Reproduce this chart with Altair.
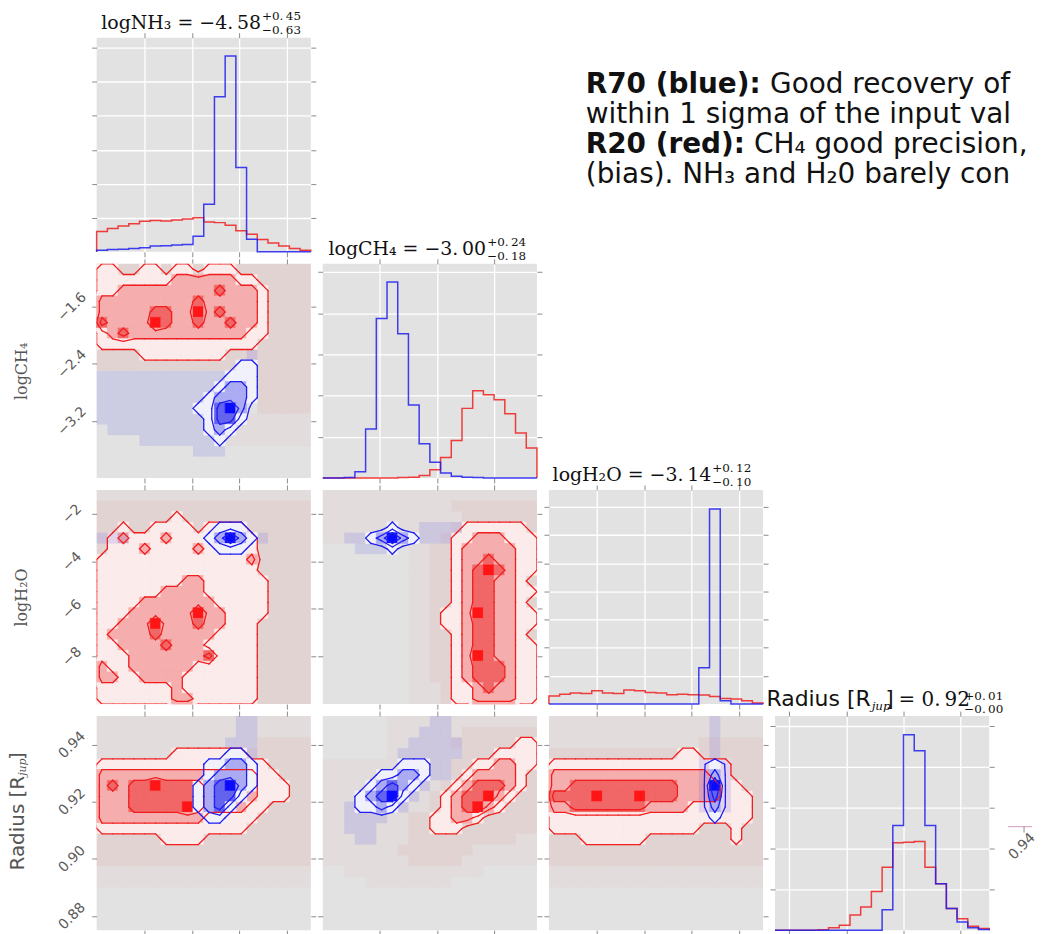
import altair as alt
import pandas as pd

# ---------------- values ----------------
NBIN = 20
NH3_RANGE = [-10.0, -1.0]
CH4_RANGE = [-4.0, -1.0]
H2O_RANGE = [-10.0, -1.0]
RAD_RANGE = [0.875, 0.95]
NH3_TICKS = [-8, -6, -4, -2]
CH4_TICKS = [-3.2, -2.4, -1.6]
H2O_TICKS = [-8, -6, -4, -2]
RAD_TICKS = [0.88, 0.90, 0.92, 0.94]

# 1-D histograms (20 bins each, arbitrary count units = grid steps)
NH3_HIST_RED = [0.60, 0.69, 0.76, 0.83, 0.90, 0.92, 0.91, 0.94, 0.97, 1.00,
                0.88, 0.86, 0.78, 0.62, 0.52, 0.36, 0.26, 0.17, 0.10, 0.05]
NH3_HIST_BLUE = [0.05, 0.07, 0.08, 0.10, 0.12, 0.17, 0.18, 0.20, 0.22, 0.46,
                 1.40, 4.56, 5.76, 2.48, 0.37, 0, 0, 0, 0, 0]
CH4_HIST_RED = [0, 0, 0, 0, 0, 0, 0, 0.01, 0.02, 0.06,
                0.20, 0.50, 0.91, 1.69, 2.12, 2.02, 1.90, 1.56, 1.09, 0.73]
CH4_HIST_BLUE = [0, 0, 0.01, 0.15, 1.19, 3.87, 4.76, 3.50, 1.77, 0.83,
                 0.38, 0.12, 0.04, 0.02, 0.01, 0, 0, 0, 0, 0]
H2O_HIST_RED = [0.29, 0.35, 0.39, 0.38, 0.47, 0.39, 0.38, 0.50, 0.47, 0.41,
                0.39, 0.33, 0.35, 0.33, 0.32, 0.27, 0.20, 0.18, 0.12, 0.04]
H2O_HIST_BLUE = [0, 0, 0, 0, 0, 0, 0, 0, 0, 0,
                 0, 0, 0, 0, 1.29, 6.92, 0.12, 0, 0, 0]
RAD_HIST_RED = [0, 0, 0, 0, 0.01, 0.06, 0.12, 0.37, 0.57, 0.95,
                1.54, 2.14, 2.15, 2.17, 1.54, 1.14, 0.53, 0.28, 0.10, 0.04]
RAD_HIST_BLUE = [0, 0, 0, 0, 0, 0, 0, 0, 0, 0,
                 0.50, 2.56, 4.78, 4.39, 2.56, 1.14, 0.53, 0.20, 0.06, 0.02]
HIST_YMAX = [6.3, 5.2, 7.6, 5.24]
HIST_GRID = [6, 5, 7, 5]

# 2-D histograms: 20x20 cells, row 0 = top. 1-4 density level,
# '.' / ',' / 'h' = scattered samples only
A_RED = [  # logCH4 vs logNH3
    "11..11.11.111.......", "111111122222211.....", "1122222222232221....",
    "2222222223222221....", "2222233224232221....", "3222243223223221....",
    "1232222222222211....", "111111111111111.....", "....11111111........",
    "....................", "              ......", "              ......",
    "              ......", "               .....", "          ,,,,,,,,,,",
    "          ,,,,,,,,,,", "            ,,,,,,,,", "", "", ""]
A_BLUE = [
    "", "", "", "", "", "", "", "",
    "              .     ", "             11     ", "............111     ",
    "...........1221     ", "..........12221     ", ".........11342      ",
    "..........1331      ", " .........121       ", "    .......1        ",
    "         ...        ", "", ""]
B_RED = [  # logH2O vs logNH3
    ",,,,,,,,,,,,,,,,,,,,", "....................", ".......1............",
    "..1..1111.1111......", ".12111211111111.....", ".11121111211111.....",
    "111111111111112.....", "111111111111111.....", "1111111122111111....",
    "1111112222111111....", "1111222222211111....", "1112222224221111....",
    "112224222322111.....", "122223222221111.....", "112222322211111.....",
    "111222222231111.....", "211222222111111.....", "221122221111111.....",
    "111111121111111.....", "111111122111111....."]
B_BLUE = [
    "", "", "", "           111      ", "...       12421.    ",
    "           111      "]
C_RED = [  # logH2O vs logCH4
    ",,,,,,,,,,,,,,,,,,,,", ",,,,,,,,,,,,........", ",,,,,,,,,,,,,.......",
    ",,,,,,,,,,,,.111111.", ",,,,,,,,,,,.11222111", "        ,,..12222211",
    "        ,,..12232211", "        ,,..12343211", "        ,,..1233221.",
    "        ,,..12332211", "        ,,..1233221.", "        ,,.112432211",
    "        ,,.112332211", "        ,,..1233221.", "        ,,..12332211",
    "        ,,..12432211", "        ,,..12333211", "        ,,..12333211",
    "        ,,,.11232211", "        ,,,.11222211"]
C_BLUE = [
    "", "", "", "      1  ....       ", "  ..12421...        ",
    "   ...1             "]
D_RED = [  # Radius vs logNH3
    ",,,,,,,,,,,,,,,,,,,,", ",,,,,,,,,,,,,,,,,,,,", ",,,,,,,,,,,,,,,.....",
    ",,,,,,,1111111......", "1111111111111111....", "22222222222222211...",
    "232334333322222111..", "222333333322222111..", "2223333343222211....",
    "222222222211111.....", "11111111111111......", "......1111..........",
    "....................", "....................", ",,,,,,,,,,,,,,,,,,,,",
    ",,,,,,,,,,,,,,,,,,,,", "", "", "", ""]
D_BLUE = [
    "             ..     ", "             ..     ", "            ...     ",
    "            11.     ", "          11221     ", "          12221     ",
    "         123421     ", "         12331      ", "         1231       ",
    "          11        "]
E_RED = [  # Radius vs logCH4
    "      ,,,,,,,,,,,,,,", "      ,,,,,,,.......", "      ,,,,,,......11",
    "      ,,,,,,,...1111", ",,,,,,,,,,,,..112211", ",,,,,,,,,,,,.122221.",
    ",,,,,,,,,,,.1233321.", ",,,,,,,,,,.1233421..", ",,,,,,,,,,.123421...",
    ",,,,,,,,..11221.....", ",,,,,,,,..111.......", ",,,,,,,,..........,,",
    ",,,,,,,.......,,,,,,", ",,,,,,,,.....,,,,,,,", "  ,,,,,,,,,,,,,     ",
    "    ,,,,,,,,        "]
E_BLUE = [
    "          ..        ", "         ...        ", "        .....       ",
    "       ......       ", "       111..        ", "     11221..        ",
    "    12321.          ", "   12341.           ", "  .1121.            ",
    "  ....              ", "  ...               ", "   ..               "]
F_RED = [  # Radius vs logH2O
    ",,,,,,,,,,,,,,,,,,,,", ",,,,,,,,,,,,,,,,,,,,", ",,,,,,,,,,,,,,......",
    "............11......", "11111111111111111...", "22222222222222211...",
    "223333333333222211..", "3333433343332222111.", "2233333332222111111.",
    "1111111111111111111.", "11111111111111...1..", "...111111........1..",
    "....................", "....................", ",,,,,,,,,,,,,,,,,,,,",
    ",,,,,,,,,,,,,,,,,,,,"]
F_BLUE = [
    "               .    ", "               .    ", "               .    ",
    "               .    ", "              h1h   ", "              h2h   ",
    "              h4h   ", "              h3h   ", "              h2h   ",
    "               1    "]

# texts
DIAG_TITLES = [
    ("logNH\u2083 = \u22124.\u200958", "+0.\u200945", "\u22120.\u200963"),
    ("logCH\u2084 = \u22123.\u200900", "+0.\u200924", "\u22120.\u200918"),
    ("logH\u2082O = \u22123.\u200914", "+0.\u200912", "\u22120.\u200910"),
]
RAD_TITLE = ("Radius [R", "jup", "]", "= 0.\u200992", "+0.\u200901", "\u22120.\u200900")
Y_TITLES = ["logCH\u2084", "logH\u2082O"]
RAD_YTITLE = ("Radius [R", "jup", "]")
BOX_BOLD = ["R70 (blue):", "", "R20 (red):", ""]
BOX_REST = ["Good recovery of N", "within 1 sigma of the input val",
            "CH\u2084 good precision,", "(bias). NH\u2083 and H\u20820 barely con"]
EDGE_LABEL = "0.94"   # fragment of the neighbouring figure at the right edge

# ---------------- styling ----------------
W = 215
H = 215
GAP = 12
RIGHT_LIMIT = 941     # right edge of the picture, relative to the first panel
BG = "#e2e2e2"
TICK_COLOR = "#8c8c8c"
SERIF = "DejaVu Serif"
SANS = "DejaVu Sans"
BOXFONT = "DejaVu Sans"
BOXSIZE = 28
RED_LINE = "#f01e1e"
BLUE_LINE = "#1e1ef0"
LEVEL_COLORS = {
    "R1": "#fcebeb", "R2": "#f6adad", "R3": "#f16666", "R4": "#ff1515",
    "R.": "rgba(235,70,70,0.09)", "R,": "rgba(235,70,70,0.035)", "Rh": "rgba(235,70,70,0.09)",
    "B1": "#f1f1fc", "B2": "#ababf4", "B3": "#6363ef", "B4": "#0a0aff",
    "B.": "rgba(70,70,235,0.14)", "B,": "rgba(70,70,235,0.05)", "Bh": "rgba(70,70,235,0.14)",
}
CSCALE = alt.Scale(domain=list(LEVEL_COLORS.keys()), range=list(LEVEL_COLORS.values()))
LEVEL_VALUE = {"1": 1.0, "2": 2.0, "3": 3.0, "4": 4.0, "h": 0.45}
CONTOUR_LEVELS = (0.5, 1.5, 2.5)
SEG_TABLE = {1: [("L", "B")], 2: [("B", "R")], 3: [("L", "R")], 4: [("T", "R")],
             5: [("T", "R"), ("L", "B")], 6: [("T", "B")], 7: [("T", "L")],
             8: [("T", "L")], 9: [("T", "B")], 10: [("T", "L"), ("B", "R")],
             11: [("T", "R")], 12: [("L", "R")], 13: [("R", "B")], 14: [("L", "B")]}
ONE = alt.Data(values=[{"a": 0}])


def row_str(rows, r):
    return (rows[r] if r < len(rows) else "").ljust(NBIN)[:NBIN]


def cells(rows, xr, yr, tag):
    dx = (xr[1] - xr[0]) / NBIN
    dy = (yr[1] - yr[0]) / NBIN
    out = []
    for r in range(NBIN):
        for c, ch in enumerate(row_str(rows, r)):
            if ch == " ":
                continue
            out.append({"x": xr[0] + c * dx, "x2": xr[0] + (c + 1) * dx,
                        "y": yr[1] - (r + 1) * dy, "y2": yr[1] - r * dy,
                        "k": tag + ch, "solid": ch in "1234"})
    return pd.DataFrame(out, columns=["x", "x2", "y", "y2", "k", "solid"])


def contour_segments(rows, xr, yr):
    n = NBIN
    g = [[LEVEL_VALUE.get(ch, 0.0) for ch in row_str(rows, r)] for r in range(n)]
    P = [[0.0] * (n + 2)] + [[0.0] + row + [0.0] for row in g] + [[0.0] * (n + 2)]
    dx = (xr[1] - xr[0]) / n
    dy = (yr[1] - yr[0]) / n
    out = []
    for t in CONTOUR_LEVELS:
        for i in range(n + 1):
            for j in range(n + 1):
                a, b = P[i][j], P[i][j + 1]
                d, c = P[i + 1][j], P[i + 1][j + 1]
                idx = (a > t) * 8 + (b > t) * 4 + (c > t) * 2 + (d > t) * 1
                if idx in (0, 15):
                    continue
                def edge(e):
                    if e == "T":
                        return (j + (t - a) / (b - a), i)
                    if e == "R":
                        return (j + 1, i + (t - b) / (c - b))
                    if e == "B":
                        return (j + (t - d) / (c - d), i + 1)
                    return (j, i + (t - a) / (d - a))
                for e1, e2 in SEG_TABLE[idx]:
                    p1, p2 = edge(e1), edge(e2)
                    out.append({"x": xr[0] + (p1[0] - 0.5) * dx, "y": yr[1] - (p1[1] - 0.5) * dy,
                                "x2": xr[0] + (p2[0] - 0.5) * dx, "y2": yr[1] - (p2[1] - 0.5) * dy})
    return pd.DataFrame(out, columns=["x", "y", "x2", "y2"])


def steps(vals, xr):
    dx = (xr[1] - xr[0]) / NBIN
    pts = [(xr[0], 0.0)] + [(xr[0] + k * dx, v) for k, v in enumerate(vals)] + \
          [(xr[1], vals[-1]), (xr[1], 0.0)]
    return pd.DataFrame({"i": list(range(len(pts))), "x": [p[0] for p in pts],
                         "y": [p[1] for p in pts]})


def tick_axis(orient, values, **kw):
    a = dict(orient=orient, values=values, labels=False, ticks=True, tickSize=5,
             tickColor=TICK_COLOR, tickWidth=1, domain=False, grid=False, title=None)
    a.update(kw)
    return alt.Axis(**a)


YLAB = dict(labels=True, labelAngle=-45, labelAlign="center", labelBaseline="middle",
            labelPadding=20, labelFont=SANS, labelFontSize=14, labelColor="#5a5a5a")
GRID = dict(grid=True, gridColor="white", gridWidth=1.3, gridOpacity=1)


def label(text, x, y, size, font, color="#111", weight="normal", style="normal",
          angle=0, align="left", baseline="alphabetic", limit=0):
    kw = dict(text=text, font=font, fontSize=size, fontWeight=weight, fontStyle=style,
              color=color, angle=angle, align=align, baseline=baseline)
    if limit:
        kw.update(limit=limit, ellipsis="\u200b")
    return alt.Chart(ONE).mark_text(**kw).encode(x=alt.value(x), y=alt.value(y))


def panel2d(xr, xt, yr, yt, red_rows, blue_rows, yfmt=None, extras=()):
    xs = alt.Scale(domain=xr, nice=False, zero=False)
    ys = alt.Scale(domain=yr, nice=False, zero=False)
    ax_b = tick_axis("bottom", xt)
    ax_l = tick_axis("left", yt, format=yfmt, **YLAB) if yfmt else tick_axis("left", yt)
    ax_t = tick_axis("top", xt)
    ax_r = tick_axis("right", yt)
    r = cells(red_rows, xr, yr, "R")
    b = cells(blue_rows, xr, yr, "B")
    groups = [(r[r.solid == True], True), (r[r.solid == False], False),
              (b[b.solid == False], False), (b[b.solid == True], True)]
    layers = []
    for g, solid in groups:
        if g.empty:
            continue
        first = not layers
        enc = dict(
            x=alt.X("x:Q", scale=xs, axis=ax_b if first else None), x2=alt.X2("x2"),
            y=alt.Y("y:Q", scale=ys, axis=ax_l if first else None), y2=alt.Y2("y2"),
            color=alt.Color("k:N", scale=CSCALE, legend=None))
        if solid:
            enc["stroke"] = alt.Stroke("k:N", scale=CSCALE, legend=None)
            m = alt.Chart(g).mark_rect(strokeWidth=0.7)
        else:
            m = alt.Chart(g).mark_rect(strokeWidth=0)
        layers.append(m.encode(**enc))
    for rows, col, last in ((red_rows, RED_LINE, False), (blue_rows, BLUE_LINE, True)):
        seg = contour_segments(rows, xr, yr)
        layers.append(alt.Chart(seg).mark_rule(color=col, strokeWidth=1.3, clip=True,
                                               strokeCap="round").encode(
            x=alt.X("x:Q", scale=xs, axis=ax_t if last else None), x2=alt.X2("x2"),
            y=alt.Y("y:Q", scale=ys, axis=ax_r if last else None), y2=alt.Y2("y2")))
    layers.extend(extras)
    return alt.layer(*layers).resolve_axis(x="independent", y="independent").properties(
        width=W, height=H, view=alt.ViewBackground(fill=BG, strokeWidth=0))


def histpanel(xr, xt, ymax, ngrid, red, blue, extras=()):
    xs = alt.Scale(domain=xr, nice=False, zero=False)
    ys = alt.Scale(domain=[0, ymax], nice=False, zero=True)
    yt = list(range(1, ngrid + 1))
    red_l = alt.Chart(steps(red, xr)).mark_line(
        interpolate="step-after", color=RED_LINE, strokeWidth=1.5, opacity=0.85).encode(
        x=alt.X("x:Q", scale=xs, axis=tick_axis("bottom", xt, **GRID)),
        y=alt.Y("y:Q", scale=ys, axis=tick_axis("left", yt, **GRID)),
        order="i:Q")
    blue_l = alt.Chart(steps(blue, xr)).mark_line(
        interpolate="step-after", color=BLUE_LINE, strokeWidth=1.5, opacity=0.85).encode(
        x=alt.X("x:Q", scale=xs, axis=tick_axis("top", xt)),
        y=alt.Y("y:Q", scale=ys, axis=tick_axis("right", yt)),
        order="i:Q")
    return alt.layer(red_l, blue_l, *extras).resolve_axis(
        x="independent", y="independent").properties(
        width=W, height=H, view=alt.ViewBackground(fill=BG, strokeWidth=0))


def diag_title(t, supx):
    main, sup, sub = t
    return [label(main, supx - 1, -8.5, 19, SERIF, align="right"),
            label(sup, supx, -18, 12, SERIF),
            label(sub, supx, -3.5, 12, SERIF)]


def ytitle(text):
    return label(text, -75, 108, 16, SERIF, color="#555", angle=270,
                 align="center", baseline="middle")


rad_title = [
    label(RAD_TITLE[0], 96, -10, 22, SANS, align="right"),
    label(RAD_TITLE[1], 97, -6, 12, SERIF, style="italic"),
    label(RAD_TITLE[2], 111, -10, 21, SANS),
    label(RAD_TITLE[3], 124, -10, 20, SERIF),
    label(RAD_TITLE[4], 190, -16, 12, SERIF),
    label(RAD_TITLE[5], 190, -3, 12, SERIF),
    # fragment of the next figure, cut by the picture edge
    label(EDGE_LABEL, 248, 131, 14, SANS, color="#5a5a5a", angle=315,
          align="center", baseline="middle"),
    alt.Chart(ONE).mark_rule(color="#d9a8c8", strokeWidth=1.2).encode(
        x=alt.value(234), x2=alt.value(258), y=alt.value(111)),
    alt.Chart(ONE).mark_rule(color=TICK_COLOR, strokeWidth=1).encode(
        x=alt.value(250), y=alt.value(111), y2=alt.value(117)),
]
rad_ytitle = [
    label(RAD_YTITLE[0], -79, 60, 20, SANS, color="#555", angle=270, align="right", baseline="middle"),
    label(RAD_YTITLE[1], -74, 60, 11, SERIF, color="#555", style="italic", angle=270, baseline="middle"),
    label(RAD_YTITLE[2], -79, 44, 20, SANS, color="#555", angle=270, baseline="middle"),
]

# annotation text placed relative to the top-left histogram, cut at the picture edge
box_layers = []
box_y = [56, 86, 116, 146]
box_rest_x = [676, 491, 660, 491]
for k in range(4):
    if BOX_BOLD[k]:
        box_layers.append(label(BOX_BOLD[k], 491, box_y[k], BOXSIZE, BOXFONT, weight="bold"))
    box_layers.append(label(BOX_REST[k], box_rest_x[k], box_y[k], BOXSIZE, BOXFONT,
                            limit=RIGHT_LIMIT - box_rest_x[k]))

# ---------------- panels ----------------
h_nh3 = histpanel(NH3_RANGE, NH3_TICKS, HIST_YMAX[0], HIST_GRID[0], NH3_HIST_RED, NH3_HIST_BLUE,
                  diag_title(DIAG_TITLES[0], 166) + box_layers)
h_ch4 = histpanel(CH4_RANGE, CH4_TICKS, HIST_YMAX[1], HIST_GRID[1], CH4_HIST_RED, CH4_HIST_BLUE,
                  diag_title(DIAG_TITLES[1], 165))
h_h2o = histpanel(H2O_RANGE, H2O_TICKS, HIST_YMAX[2], HIST_GRID[2], H2O_HIST_RED, H2O_HIST_BLUE,
                  diag_title(DIAG_TITLES[2], 164))
h_rad = histpanel(RAD_RANGE, RAD_TICKS, HIST_YMAX[3], HIST_GRID[3], RAD_HIST_RED, RAD_HIST_BLUE,
                  rad_title)

pA = panel2d(NH3_RANGE, NH3_TICKS, CH4_RANGE, CH4_TICKS, A_RED, A_BLUE, ".1f", [ytitle(Y_TITLES[0])])
pB = panel2d(NH3_RANGE, NH3_TICKS, H2O_RANGE, H2O_TICKS, B_RED, B_BLUE, "d", [ytitle(Y_TITLES[1])])
pC = panel2d(CH4_RANGE, CH4_TICKS, H2O_RANGE, H2O_TICKS, C_RED, C_BLUE)
pD = panel2d(NH3_RANGE, NH3_TICKS, RAD_RANGE, RAD_TICKS, D_RED, D_BLUE, ".2f", rad_ytitle)
pE = panel2d(CH4_RANGE, CH4_TICKS, RAD_RANGE, RAD_TICKS, E_RED, E_BLUE)
pF = panel2d(H2O_RANGE, H2O_TICKS, RAD_RANGE, RAD_TICKS, F_RED, F_BLUE)


def blank():
    return alt.Chart(ONE).mark_text(text="").encode(
        x=alt.value(0), y=alt.value(0)).properties(width=W, height=H)


chart = alt.concat(
    h_nh3, blank(), blank(), blank(),
    pA, h_ch4, blank(), blank(),
    pB, pC, h_h2o, blank(),
    pD, pE, pF, h_rad,
    columns=4, spacing=GAP, bounds="flush"
).resolve_scale(x="independent", y="independent").properties(
    padding=0).configure_view(strokeWidth=0)

chart.save("out.html", embed_options={"renderer": "svg", "actions": False})
